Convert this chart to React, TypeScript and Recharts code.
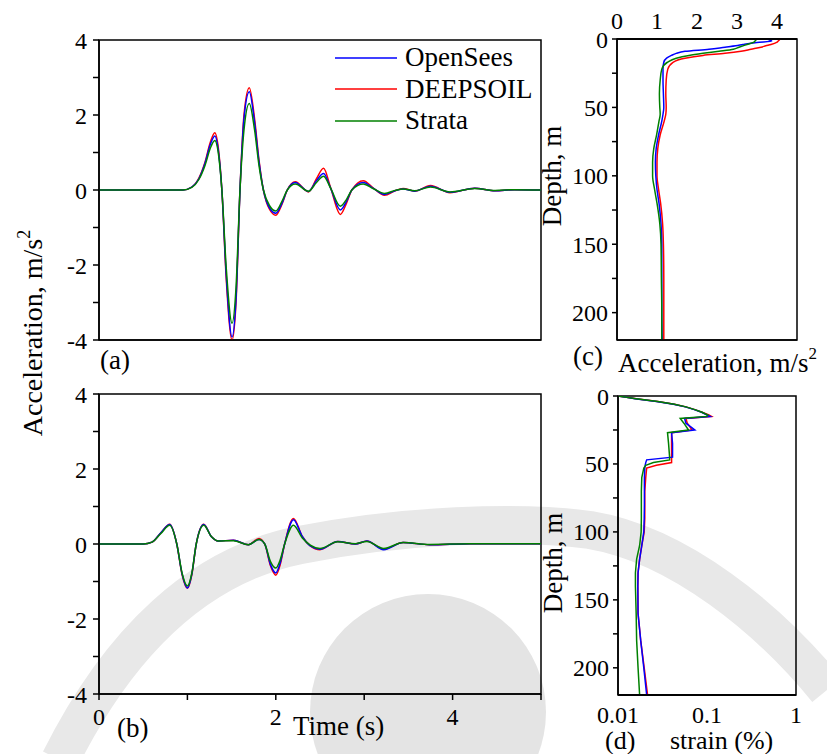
import {
  Legend,
  Line,
  LineChart,
  ReferenceArea,
  XAxis,
  YAxis,
} from "recharts";

// ---- (a) surface acceleration time history ----
const TIME_A = [
  0, 0.95, 1.05, 1.13, 1.2, 1.26, 1.31, 1.35, 1.39, 1.44, 1.505, 1.55, 1.595, 1.64, 1.7, 1.76, 1.81,
  1.86, 1.93, 2.0, 2.07, 2.13, 2.22, 2.37, 2.46, 2.54, 2.62, 2.73, 2.8, 2.86, 2.99, 3.1, 3.23, 3.35,
  3.44, 3.57, 3.75, 3.97, 4.25, 4.48, 4.7, 5.0,
];
const OPENSEES_A = [
  0, 0, 0.08, 0.3, 0.72, 1.22, 1.44, 1.05, 0, -2.3, -3.92, -2.9, 0, 1.9, 2.62, 1.8, 0.75,
  0, -0.48, -0.62, -0.35, 0, 0.2, -0.04, 0.25, 0.44, 0.05, -0.53, -0.3, 0, 0.2, 0.05, -0.12, -0.02,
  0.03, -0.03, 0.1, -0.06, 0.05, -0.02, 0.01, 0,
];
const DEEPSOIL_A = [
  0, 0, 0.08, 0.32, 0.75, 1.28, 1.53, 1.12, 0, -2.4, -4.0, -3.0, 0, 2.0, 2.73, 1.9, 0.8,
  0, -0.52, -0.67, -0.38, 0, 0.22, -0.05, 0.3, 0.58, 0.06, -0.65, -0.35, 0, 0.25, 0.06, -0.14, -0.02,
  0.04, -0.03, 0.12, -0.07, 0.05, -0.02, 0.01, 0,
];
const STRATA_A = [
  0, 0, 0.07, 0.28, 0.66, 1.12, 1.32, 0.98, 0, -2.1, -3.55, -2.6, 0, 1.6, 2.31, 1.6, 0.65,
  0, -0.42, -0.56, -0.3, 0, 0.16, -0.03, 0.2, 0.37, 0.05, -0.43, -0.25, 0, 0.16, 0.04, -0.09, -0.01,
  0.03, -0.02, 0.08, -0.05, 0.04, -0.01, 0.01, 0,
];

// ---- (b) second motion ----
const TIME_B = [
  0, 0.5, 0.6, 0.7, 0.8, 0.88, 0.94, 1.0, 1.05, 1.1, 1.185, 1.27, 1.35, 1.52, 1.69, 1.81, 1.875,
  1.94, 2.0, 2.05, 2.1, 2.2, 2.3, 2.39, 2.5, 2.7, 2.9, 3.03, 3.22, 3.44, 3.74, 4.2, 5.0,
];
const OPENSEES_B = [
  0, 0, 0.05, 0.3, 0.52, 0, -0.8, -1.17, -0.8, 0, 0.52, 0.2, 0.08, 0.1, -0.02, 0.12, 0,
  -0.55, -0.77, -0.5, 0, 0.65, 0.2, -0.05, -0.14, 0.07, 0, 0.08, -0.15, 0.04, -0.02, 0.01, 0.01,
];
const DEEPSOIL_B = [
  0, 0, 0.05, 0.3, 0.53, 0, -0.82, -1.18, -0.82, 0, 0.53, 0.2, 0.08, 0.1, -0.02, 0.15, 0,
  -0.58, -0.83, -0.55, 0, 0.68, 0.2, -0.05, -0.15, 0.07, 0, 0.08, -0.14, 0.04, -0.02, 0.01, 0.01,
];
const STRATA_B = [
  0, 0, 0.05, 0.28, 0.5, 0, -0.78, -1.12, -0.78, 0, 0.5, 0.2, 0.08, 0.09, -0.02, 0.12, 0,
  -0.47, -0.64, -0.42, 0, 0.5, 0.16, -0.03, -0.12, 0.06, 0.01, 0.07, -0.12, 0.04, -0.01, 0.01, 0.01,
];

// ---- (c) peak acceleration profile ----
const DEPTH_C = [
  0, 1.5, 2.5, 4, 5, 6, 7.5, 9, 10.5, 12, 14, 17, 22, 30, 40, 50, 55, 60, 70, 80, 90, 100, 110, 120,
  135, 150, 175, 200, 220,
];
const OPENSEES_C = [
  3.74, 3.87, 3.5, 3.15, 2.97, 2.7, 2.3, 1.7, 1.48, 1.36, 1.24, 1.17, 1.15, 1.15, 1.16, 1.17, 1.15,
  1.12, 1.04, 0.98, 0.96, 0.97, 1.0, 1.05, 1.1, 1.12, 1.12, 1.12, 1.13,
];
const DEEPSOIL_C = [
  4.08, 4.03, 3.99, 3.85, 3.72, 3.6, 3.35, 3.1, 2.7, 2.15, 1.7, 1.4, 1.27, 1.23, 1.22, 1.23, 1.22,
  1.18, 1.08, 1.02, 1.0, 1.0, 1.04, 1.09, 1.14, 1.16, 1.17, 1.17, 1.17,
];
const STRATA_C = [
  3.49, 3.45, 3.41, 3.25, 3.15, 3.05, 2.91, 2.55, 2.15, 1.8, 1.48, 1.26, 1.12, 1.08, 1.06, 1.07, 1.08,
  1.05, 0.99, 0.92, 0.89, 0.89, 0.94, 1.0, 1.07, 1.1, 1.11, 1.12, 1.12,
];

// ---- (d) peak strain profile ----
const DEPTH_D = [
  0, 1, 2, 4, 6, 8, 10, 12, 14, 15, 16.5, 20, 25, 27, 35, 45, 47, 49, 51, 53, 60, 70, 80, 90, 100,
  110, 120, 130, 140, 160, 180, 200, 220,
];
const OPENSEES_D = [
  0.01, 0.0125, 0.0155, 0.027, 0.042, 0.057, 0.072, 0.087, 0.1, 0.108, 0.056, 0.058, 0.073, 0.04,
  0.041, 0.041, 0.021, 0.0205, 0.0202, 0.02, 0.0198, 0.0198, 0.0198, 0.0197, 0.0195, 0.0185, 0.0175,
  0.0168, 0.0167, 0.0168, 0.018, 0.0195, 0.021,
];
const DEEPSOIL_D = [
  0.01, 0.0125, 0.016, 0.028, 0.043, 0.058, 0.073, 0.088, 0.105, 0.112, 0.058, 0.06, 0.068, 0.04,
  0.04, 0.04, 0.04, 0.04, 0.027, 0.021, 0.0205, 0.02, 0.02, 0.02, 0.0197, 0.0185, 0.0175, 0.0168,
  0.0167, 0.0168, 0.018, 0.0197, 0.0215,
];
const STRATA_D = [
  0.01, 0.0125, 0.016, 0.028, 0.043, 0.058, 0.073, 0.088, 0.102, 0.1, 0.05, 0.055, 0.062, 0.036,
  0.037, 0.038, 0.038, 0.025, 0.0205, 0.0195, 0.0185, 0.0183, 0.0183, 0.0183, 0.0182, 0.0175, 0.0162,
  0.0157, 0.0157, 0.016, 0.0162, 0.0168, 0.0175,
];

// ticks
const ACC_TICKS = [-4, -3, -2, -1, 0, 1, 2, 3, 4];
const TIME_TICKS = [0, 1, 2, 3, 4, 5];
const PGA_TICKS = [0, 0.5, 1, 1.5, 2, 2.5, 3, 3.5, 4, 4.5];
const DEPTH_TICKS = [0, 25, 50, 75, 100, 125, 150, 175, 200];
const STRAIN_LABELS = [0.01, 0.1, 1];
const STRAIN_TICKS = [
  0.01, 0.02, 0.03, 0.04, 0.05, 0.06, 0.07, 0.08, 0.09, 0.1, 0.2, 0.3, 0.4, 0.5, 0.6, 0.7, 0.8, 0.9, 1,
];

// legend order
const SERIES = [
  { key: "opensees", name: "OpenSees", color: "#0000ff" },
  { key: "deepsoil", name: "DEEPSOIL", color: "#ff0000" },
  { key: "strata", name: "Strata", color: "#008000" },
];
// red underneath, green on top
const DRAW_ORDER = [SERIES[1], SERIES[0], SERIES[2]];

const timeRows = (t: number[], o: number[], d: number[], s: number[]) =>
  t.map((v, i) => ({ t: v, opensees: o[i], deepsoil: d[i], strata: s[i] }));
const depthRows = (z: number[], o: number[], d: number[], s: number[]) =>
  z.map((v, i) => ({ depth: v, opensees: o[i], deepsoil: d[i], strata: s[i] }));

const dataA = timeRows(TIME_A, OPENSEES_A, DEEPSOIL_A, STRATA_A);
const dataB = timeRows(TIME_B, OPENSEES_B, DEEPSOIL_B, STRATA_B);
const dataC = depthRows(DEPTH_C, OPENSEES_C, DEEPSOIL_C, STRATA_C);
const dataD = depthRows(DEPTH_D, OPENSEES_D, DEEPSOIL_D, STRATA_D);

const SERIF = "'Liberation Serif', 'Times New Roman', serif";
const INK = "#000";
const TICK = { fontSize: 24, fill: INK };
const AXIS = { stroke: INK, strokeWidth: 1.5 };
const evenOnly = (v: number) => (v % 2 === 0 ? String(v) : "");
const wholeOnly = (v: number) => (Number.isInteger(v) ? String(v) : "");
const fiftyOnly = (v: number) => (v % 50 === 0 ? String(v) : "");

function renderLegend() {
  return (
    <div style={{ fontSize: 27, lineHeight: "31.5px", fontFamily: SERIF, color: INK }}>
      {SERIES.map((s) => (
        <div key={s.key} style={{ display: "flex", alignItems: "center", height: 31.5 }}>
          <svg width={62} height={4} style={{ marginRight: 8 }}>
            <line x1={0} y1={2} x2={62} y2={2} stroke={s.color} strokeWidth={1.5} />
          </svg>
          <span>{s.name}</span>
        </div>
      ))}
    </div>
  );
}

function TimePanel({ data, labels, top, height, margin, legend }: any) {
  return (
    <div style={{ position: "absolute", left: 0, top }}>
      <LineChart width={560} height={height} data={data} margin={margin}>
        <XAxis
          dataKey="t"
          type="number"
          domain={[0, 5]}
          ticks={TIME_TICKS}
          interval={0}
          tick={labels ? TICK : false}
          tickFormatter={evenOnly}
          tickSize={6}
          tickMargin={8}
          height={40}
          axisLine={AXIS}
          tickLine={AXIS}
        />
        <YAxis
          type="number"
          domain={[-4, 4]}
          ticks={ACC_TICKS}
          interval={0}
          tick={TICK}
          tickFormatter={evenOnly}
          tickSize={6}
          tickMargin={6}
          width={99}
          allowDataOverflow
          axisLine={AXIS}
          tickLine={AXIS}
        />
        <ReferenceArea x1={0} x2={5} y1={-4} y2={4} fill="none" stroke={INK} strokeWidth={1.5} />
        {DRAW_ORDER.map((s) => (
          <Line
            key={s.key}
            dataKey={s.key}
            type="monotone"
            stroke={s.color}
            strokeWidth={1.5}
            dot={false}
            isAnimationActive={false}
          />
        ))}
        {legend && (
          <Legend
            layout="vertical"
            verticalAlign="middle"
            align="center"
            content={renderLegend}
            wrapperStyle={{ left: 335, top: 42, width: 200 }}
          />
        )}
      </LineChart>
    </div>
  );
}

function DepthPanel({ data, top, height, margin, log, curve }: any) {
  const valueAxis = log
    ? { scale: "log" as const, domain: [0.01, 1], ticks: STRAIN_TICKS }
    : { scale: "linear" as const, domain: [0, 4.5], ticks: PGA_TICKS };
  return (
    <div style={{ position: "absolute", left: 540, top }}>
      <LineChart width={287} height={height} data={data} margin={margin} layout="vertical">
        {/* inward tick marks, declared before the labelled axis so they sit on the frame */}
        <XAxis
          xAxisId="marks"
          type="number"
          orientation={log ? "bottom" : "top"}
          scale={valueAxis.scale}
          domain={valueAxis.domain}
          ticks={valueAxis.ticks}
          interval={0}
          mirror
          tick={false}
          tickSize={5}
          height={1}
          allowDataOverflow
          axisLine={AXIS}
          tickLine={AXIS}
        />
        {!log && (
          <XAxis
            xAxisId="marksBottom"
            type="number"
            orientation="bottom"
            domain={valueAxis.domain}
            ticks={valueAxis.ticks}
            interval={0}
            mirror
            tick={false}
            tickSize={5}
            height={1}
            allowDataOverflow
            axisLine={AXIS}
            tickLine={AXIS}
          />
        )}
        <XAxis
          xAxisId="value"
          type="number"
          orientation={log ? "bottom" : "top"}
          scale={valueAxis.scale}
          domain={valueAxis.domain}
          ticks={log ? STRAIN_LABELS : PGA_TICKS}
          interval={0}
          tick={TICK}
          tickFormatter={log ? (v: number) => String(v) : wholeOnly}
          tickLine={false}
          tickSize={6}
          tickMargin={log ? 5 : 4}
          height={log ? 30 : 39}
          allowDataOverflow
          axisLine={AXIS}
        />
        <YAxis
          dataKey="depth"
          type="number"
          domain={[0, 220]}
          ticks={DEPTH_TICKS}
          interval={0}
          tick={TICK}
          tickFormatter={fiftyOnly}
          tickSize={5}
          tickMargin={4}
          width={log ? 78 : 77}
          allowDataOverflow
          axisLine={AXIS}
          tickLine={AXIS}
        />
        <ReferenceArea
          xAxisId="value"
          x1={valueAxis.domain[0]}
          x2={valueAxis.domain[1]}
          y1={0}
          y2={220}
          fill="none"
          stroke={INK}
          strokeWidth={1.5}
        />
        {DRAW_ORDER.map((s) => (
          <Line
            key={s.key}
            xAxisId="value"
            dataKey={s.key}
            type={curve}
            stroke={s.color}
            strokeWidth={1.5}
            dot={false}
            isAnimationActive={false}
          />
        ))}
      </LineChart>
    </div>
  );
}

export default function App() {
  return (
    <div
      className="figure"
      style={{
        position: "absolute",
        left: 0,
        top: 0,
        width: 827,
        height: 754,
        background: "#fff",
        fontFamily: SERIF,
        color: INK,
        overflow: "hidden",
      }}
    >
      <style>{`.figure svg text, .figure svg tspan { font-family: ${SERIF} !important; }`}</style>
      {/* faint emblem watermark behind the lower panels */}
      <svg width={827} height={754} style={{ position: "absolute", left: 0, top: 0 }}>
        <circle cx={428} cy={712} r={118} fill="#e4e4e4" />
        <path
          d="M 60 760 C 120 640, 200 565, 300 545 C 400 525, 520 520, 590 530 C 680 545, 770 620, 827 690"
          fill="none"
          stroke="#e8e8e8"
          strokeWidth={38}
        />
      </svg>
      <TimePanel
        data={dataA}
        top={0}
        height={380}
        margin={{ top: 40, right: 19, bottom: 0, left: 0 }}
        legend
      />
      <TimePanel
        data={dataB}
        top={380}
        height={374}
        margin={{ top: 14, right: 19, bottom: 20, left: 0 }}
        labels
      />
      <DepthPanel
        data={dataC}
        top={0}
        height={380}
        margin={{ top: 0, right: 30, bottom: 40, left: 0 }}
        curve="monotone"
      />
      <DepthPanel
        data={dataD}
        top={380}
        height={374}
        margin={{ top: 16, right: 31, bottom: 29, left: 0 }}
        log
        curve="linear"
      />
      <svg
        width={827}
        height={754}
        style={{ position: "absolute", left: 0, top: 0, pointerEvents: "none" }}
        fontSize={27}
        fontFamily={SERIF}
        fill={INK}
      >
        <text transform="translate(42,333) rotate(-90)" textAnchor="middle" fontSize={28}>
          Acceleration, m/s
          <tspan fontSize={18} dy={-12}>
            2
          </tspan>
        </text>
        <text transform="translate(561,176) rotate(-90)" textAnchor="middle">
          Depth, m
        </text>
        <text transform="translate(562,563) rotate(-90)" textAnchor="middle">
          Depth, m
        </text>
        <text x={100} y={369}>(a)</text>
        <text x={117} y={737}>(b)</text>
        <text x={293} y={735}>Time (s)</text>
        <text x={573} y={365}>(c)</text>
        <text x={618} y={372}>
          Acceleration, m/s
          <tspan fontSize={17} dy={-13}>
            2
          </tspan>
        </text>
        <text x={605} y={749} fontSize={26}>(d)</text>
        <text x={670} y={749} fontSize={26}>strain (%)</text>
      </svg>
    </div>
  );
}
